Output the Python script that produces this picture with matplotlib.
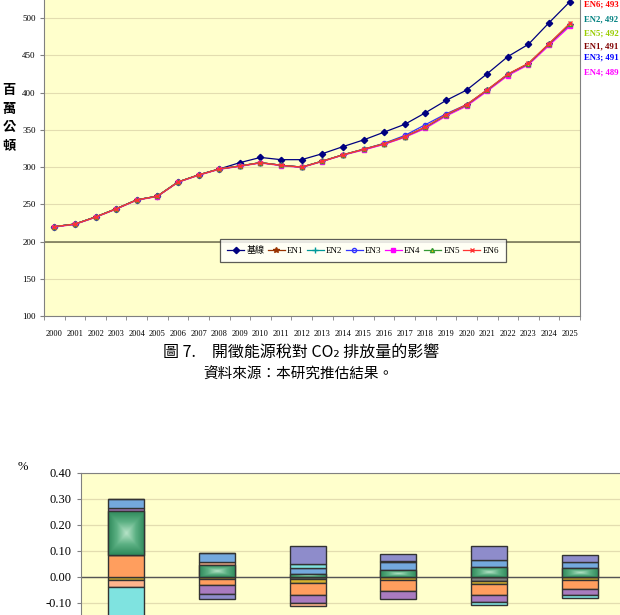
import numpy as np
import matplotlib
matplotlib.use("Agg")
from matplotlib import pyplot as plt
from matplotlib.colors import LinearSegmentedColormap
from matplotlib.patches import Rectangle

plt.rcParams['font.family'] = ['Liberation Serif', 'Noto Sans CJK TC', 'DejaVu Sans']

# ---- top chart: CO2 emissions (million tonnes) ----
years = [str(y) for y in range(2000, 2026)]
baseline = [220, 223.5, 233, 244, 256, 261, 280, 289.5, 297.5, 306, 313, 310, 310,
            318, 327.5, 336.5, 347, 357.5, 373, 389.5, 403.5, 425.5, 448.5, 465, 494, 522]
en1 = [220, 223.5, 233, 244, 256, 261, 280, 289.5, 297.5, 301.5, 306, 302.5, 300,
       308, 316.5, 323.5, 331, 340.5, 353, 369.5, 383, 403, 424, 438.5, 465, 491]
en2 = [220, 223.5, 233, 244, 256, 261, 280, 289.5, 297.5, 301.5, 306, 302.5, 300,
       308, 316.5, 324, 331.5, 341, 353.5, 370, 383.5, 403.5, 424.5, 439, 465.5, 492]
en3 = [220, 223.5, 233, 244, 256, 261, 280, 289.5, 297.5, 301.5, 306, 302.5, 300,
       308, 316.5, 324, 332, 342.5, 357, 371.5, 384, 403.5, 424.5, 439, 465, 491]
en4 = [219.5, 223, 232.5, 243.5, 255.5, 260.5, 279.5, 289, 297, 301, 305.5, 302, 299.5,
       307.5, 316, 323, 330.5, 340, 352, 368.5, 382, 402, 423, 437.5, 463.5, 489]
en5 = [220, 223.5, 233, 244, 256, 261, 280, 289.5, 297.5, 301.5, 306, 302.5, 300,
       308, 316.5, 324, 331.5, 341, 353.5, 370, 383.5, 403.5, 424.5, 439, 465.5, 492]
en6 = [220, 223.5, 233, 244, 256, 261, 280, 289.5, 297.5, 301.5, 306, 302.5, 300,
       308, 316.5, 324, 331.5, 341, 354, 370.5, 384, 404, 425, 439.5, 466, 493]
end_labels = ['EN6; 493', 'EN2, 492', 'EN5; 492', 'EN1, 491', 'EN3; 491', 'EN4; 489']
end_colors = ['#FF0000', '#008080', '#99CC00', '#800000', '#0000FF', '#FF00FF']

# ---- bottom chart: percentage change by component ----
bar_groups = ['EN1', 'EN2', 'EN3', 'EN4', 'EN5', 'EN6']
comp_gray = [0, 0, -0.010, 0, -0.017, 0]
comp_yellow = [-0.012, -0.008, -0.013, -0.013, -0.010, -0.014]
comp_orange = [0.082, -0.025, -0.047, -0.042, -0.045, -0.032]
comp_green = [0.169, 0.044, 0.009, 0.025, 0.038, 0.032]
comp_purple = [0.013, -0.032, -0.033, -0.032, -0.025, -0.026]
comp_salmon = [-0.028, 0.014, -0.011, 0, 0, 0]
comp_blue = [0.036, 0.033, 0.026, 0.030, 0.026, 0.025]
comp_cyan = [-0.20, 0, 0.012, 0.006, -0.013, -0.011]
comp_lavender = [0, -0.020, 0.072, 0.027, 0.053, 0.028]

W, H = 620, 615
fig = plt.figure(figsize=(6.2, 6.15), dpi=100)
bg = '#FFFFCC'
grid_c = '#E3DDB0'

# ================= top chart =================
ax = fig.add_axes([44 / W, 1 - 316 / H, 536 / W, 335 / H])
ax.set_facecolor(bg)
x = np.arange(len(years))
ax.plot(x, baseline, color='#000080', lw=0.9, marker='D', ms=3.2, label='基線', zorder=3)
ax.plot(x, en1, color='#993300', lw=0.9, marker='*', ms=4, label='EN1', zorder=3)
ax.plot(x, en2, color='#009999', lw=0.9, marker='+', ms=4, label='EN2', zorder=3)
ax.plot(x, en3, color='#3333FF', lw=0.9, marker='o', ms=3, mfc='none', label='EN3', zorder=3)
ax.plot(x, en4, color='#FF00FF', lw=0.9, marker='s', ms=3, label='EN4', zorder=3)
ax.plot(x, en5, color='#339933', lw=0.9, marker='^', ms=3, mfc='#FFCC00', label='EN5', zorder=3)
ax.plot(x, en6, color='#FF3333', lw=0.9, marker='x', ms=3.5, label='EN6', zorder=3)

ax.set_xlim(-0.5, len(years) - 0.5)
ax.set_ylim(100, 550)
ax.set_yticks(range(100, 501, 50))
ax.yaxis.grid(True, color=grid_c, lw=0.8)
ax.set_axisbelow(True)
ax.axhline(200, color='#6E6E50', lw=1.1, zorder=2)
ax.set_xticks(x)
ax.set_xticklabels(years, fontsize=6)
ax.set_xticks(np.arange(-0.5, len(years), 1), minor=True)
ax.tick_params(axis='x', which='major', length=0, pad=10)
ax.tick_params(axis='x', which='minor', length=3, color='#808080')
ax.tick_params(axis='y', labelsize=6.5, length=3, color='#808080', pad=3)
for s in ['left', 'bottom', 'right']:
    ax.spines[s].set_color('#808080')
ax.spines['top'].set_visible(False)

fig.text(9 / W, 1 - 118 / H, '百\n萬\n公\n頓', family=['Noto Sans CJK TC'],
         fontsize=9.5, fontweight='bold', ha='center', va='center', linespacing=1.4)

leg = ax.legend(loc='center', ncol=7, fontsize=6.5, frameon=True, fancybox=False,
                bbox_to_anchor=(363 / W, 1 - 250.5 / H), bbox_transform=fig.transFigure,
                handlelength=1.9, handletextpad=0.25, columnspacing=0.35, borderpad=0.75,
                borderaxespad=0)
leg.get_frame().set_edgecolor('#333333')
leg.get_frame().set_linewidth(0.9)

label_y = [5, 19, 34, 46, 58, 73]
for txt, col, yy in zip(end_labels, end_colors, label_y):
    fig.text(584 / W, 1 - yy / H, txt, color=col, fontsize=6.3, fontweight='bold',
             ha='left', va='center')

# captions
fig.text(301 / W, 1 - 352 / H, '圖 7.\u3000開徵能源稅對 CO₂ 排放量的影響',
         family=['Noto Sans CJK TC', 'DejaVu Sans'], fontsize=11.5, ha='center', va='center')
fig.text(298 / W, 1 - 375 / H, '資料來源：本研究推估結果。',
         family=['Noto Sans CJK TC'], fontsize=10.5, ha='center', va='center')

# ================= bottom chart =================
ax2 = fig.add_axes([81 / W, 1 - 628.7 / H, 544 / W, 156 / H])
ax2.set_facecolor(bg)
xb = np.arange(len(bar_groups))
series = [
    (comp_gray, '#7F7F7F'),
    (comp_yellow, '#D6B12E'),
    (comp_orange, '#FF9E5E'),
    (comp_green, '#2E8B57'),
    (comp_purple, '#A97BBF'),
    (comp_salmon, '#FFB48C'),
    (comp_blue, '#74A9DE'),
    (comp_cyan, '#7FE3E0'),
    (comp_lavender, '#8E8CCB'),
]
pos_base = np.zeros(len(bar_groups))
neg_base = np.zeros(len(bar_groups))
green_cmap = LinearSegmentedColormap.from_list('g', ['#B4E2C6', '#5DB184', '#2F8A5B'])
yy, xx = np.mgrid[-1:1:60j, -1:1:60j]
pyramid = np.maximum(np.abs(xx), np.abs(yy))
bw = 0.4
for vals, col in series:
    vals = np.array(vals)
    bottoms = np.where(vals >= 0, pos_base, neg_base)
    bars = ax2.bar(xb, vals, bw, bottom=bottoms, color=col, edgecolor='#333333',
                   linewidth=1.0, zorder=3)
    if col == '#2E8B57':
        for b in bars:
            if b.get_height() == 0:
                continue
            x0, y0 = b.get_x(), b.get_y()
            x1, y1 = x0 + b.get_width(), y0 + b.get_height()
            ax2.imshow(pyramid, extent=[x0, x1, min(y0, y1), max(y0, y1)],
                       cmap=green_cmap, aspect='auto', zorder=3.1,
                       interpolation='bilinear')
            ax2.add_patch(Rectangle((x0, y0), b.get_width(), b.get_height(),
                                    fill=False, edgecolor='#333333', lw=1.0, zorder=3.2))
    pos_base = pos_base + np.where(vals > 0, vals, 0)
    neg_base = neg_base + np.where(vals < 0, vals, 0)

ax2.set_xlim(-0.5, len(bar_groups) - 0.5)
ax2.set_ylim(-0.20, 0.40)
yt = np.arange(-0.1, 0.41, 0.1)
ax2.set_yticks(yt)
ax2.set_yticklabels(['%.2f' % v for v in yt])
ax2.yaxis.grid(True, color=grid_c, lw=0.9)
ax2.set_axisbelow(True)
ax2.axhline(0, color='#555555', lw=1.0, zorder=2.5)
ax2.set_xticks([])
ax2.tick_params(axis='y', labelsize=9, length=3, color='#808080', pad=4)
for s in ax2.spines.values():
    s.set_color('#808080')
fig.text(23 / W, 1 - 467 / H, '%', fontsize=9, ha='center', va='center')

fig.savefig('out.png', dpi=100, facecolor='white')
